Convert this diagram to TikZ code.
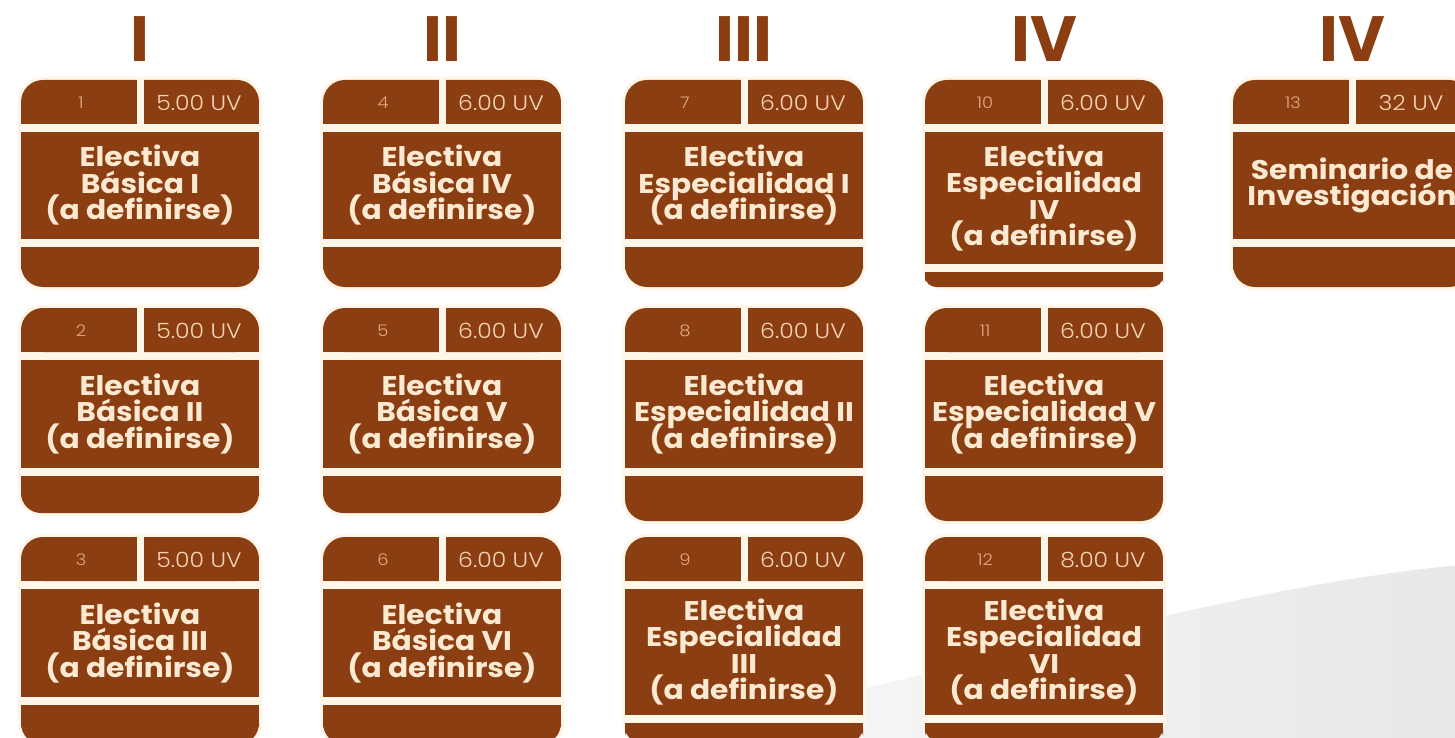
\documentclass[tikz,border=0pt]{standalone}
\usepackage{fontspec}
\setmainfont{Poppins}
\newfontfamily\cardfont[FakeStretch=1.1]{Poppins}
\newfontfamily\uvfont[FakeStretch=1.12,UprightFont={* Light}]{Poppins}
\newcommand\cardtextfont{\cardfont\bfseries\fontsize{27}{26.5}\selectfont\lineskiplimit=-50pt\relax\lineskip=0pt\relax}
\definecolor{cardbrown}{RGB}{139,62,18}
\definecolor{gapcream}{RGB}{255,246,234}
\definecolor{txtcream}{RGB}{252,233,210}
\definecolor{numtxt}{RGB}{226,170,125}
\definecolor{uvtxt}{RGB}{244,212,180}
\definecolor{swooshA}{RGB}{250,250,250}
\definecolor{swooshB}{RGB}{232,232,232}
\tikzset{
  maintext/.style={text=txtcream, align=center, font={\cardtextfont}},
  numtext/.style={text=numtxt, font={\uvfont\fontsize{16}{16}\selectfont}},
  uvtext/.style={text=uvtxt, font={\uvfont\fontsize{21}{21}\selectfont}},
  headtext/.style={text=cardbrown, font={\bfseries\fontsize{64}{64}\selectfont}, anchor=base},
  every node/.style={inner sep=0pt}
}
% #1 name, #2 left x, #3 top y, #4 number, #5 UV, #6 title, #7 middle bottom y, #8 card bottom y, #9 bottom radius
\newcommand\subjcard[9]{%
  \fill[gapcream,rounded corners=24] (#2-3,#3-3) rectangle (#2+241,#8+3);
  \fill[cardbrown,rounded corners=22] (#2,#3) rectangle (#2+238,#3+44);
  \fill[cardbrown] (#2,#3+22) rectangle (#2+238,#3+44);
  \fill[gapcream] (#2+116,#3-1) rectangle (#2+123,#3+45);
  \fill[cardbrown] (#2,#3+52) rectangle (#2+238,#7);
  \fill[cardbrown,rounded corners=#9] (#2,#7+8) rectangle (#2+238,#8);
  \fill[cardbrown] (#2,#7+8) rectangle (#2+238,{(#7+8+#8)/2});
  \node[numtext] (#1n) at (#2+60,#3+23) {#4};
  \node[uvtext] (#1u) at (#2+178,#3+23) {#5};
  \node[maintext] (#1t) at (#2+119,{(#3+52+#7)/2}) {#6};
}
\begin{document}
\begin{tikzpicture}[x=1pt,y=-1pt]
\useasboundingbox (0,0) rectangle (1455,738);
\clip (0,0) rectangle (1455,738);
\fill[white] (0,0) rectangle (1455,738);
\shade[left color=swooshA, right color=swooshB]
  (600,745) .. controls (950,680) and (1200,590) .. (1460,565) -- (1460,745) -- cycle;
% headers
\node[headtext] (h1) at (140,62) {I};
\node[headtext] (h2) at (442,62) {II};
\node[headtext] (h3) at (744,62) {III};
\node[headtext] (h4) at (1044,62) {IV};
\node[headtext] (h5) at (1352,62) {IV};
% column I
\subjcard{c1}{21}{80}{1}{5.00 UV}{Electiva\\Básica I\\(a definirse)}{239}{287}{22}
\subjcard{c2}{21}{308}{2}{5.00 UV}{Electiva\\Básica II\\(a definirse)}{468}{513}{20}
\subjcard{c3}{21}{537}{3}{5.00 UV}{Electiva\\Básica III\\(a definirse)}{697}{745}{22}
% column II
\subjcard{c4}{323}{80}{4}{6.00 UV}{Electiva\\Básica IV\\(a definirse)}{239}{287}{22}
\subjcard{c5}{323}{308}{5}{6.00 UV}{Electiva\\Básica V\\(a definirse)}{468}{513}{20}
\subjcard{c6}{323}{537}{6}{6.00 UV}{Electiva\\Básica VI\\(a definirse)}{697}{745}{22}
% column III
\subjcard{c7}{625}{80}{7}{6.00 UV}{Electiva\\Especialidad I\\(a definirse)}{239}{287}{22}
\subjcard{c8}{625}{308}{8}{6.00 UV}{Electiva\\Especialidad II\\(a definirse)}{468}{521}{22}
\subjcard{c9}{625}{537}{9}{6.00 UV}{Electiva\\Especialidad\\III\\(a definirse)}{715}{741}{13}
% column IV
\subjcard{c10}{925}{80}{10}{6.00 UV}{Electiva\\Especialidad\\IV\\(a definirse)}{264}{287}{11}
\subjcard{c11}{925}{308}{11}{6.00 UV}{Electiva\\Especialidad V\\(a definirse)}{468}{521}{22}
\subjcard{c12}{925}{537}{12}{8.00 UV}{Electiva\\Especialidad\\VI\\(a definirse)}{715}{741}{13}
% column V
\subjcard{c13}{1233}{80}{13}{32 UV}{Seminario de\\Investigación}{239}{287}{22}
\end{tikzpicture}
\end{document}
